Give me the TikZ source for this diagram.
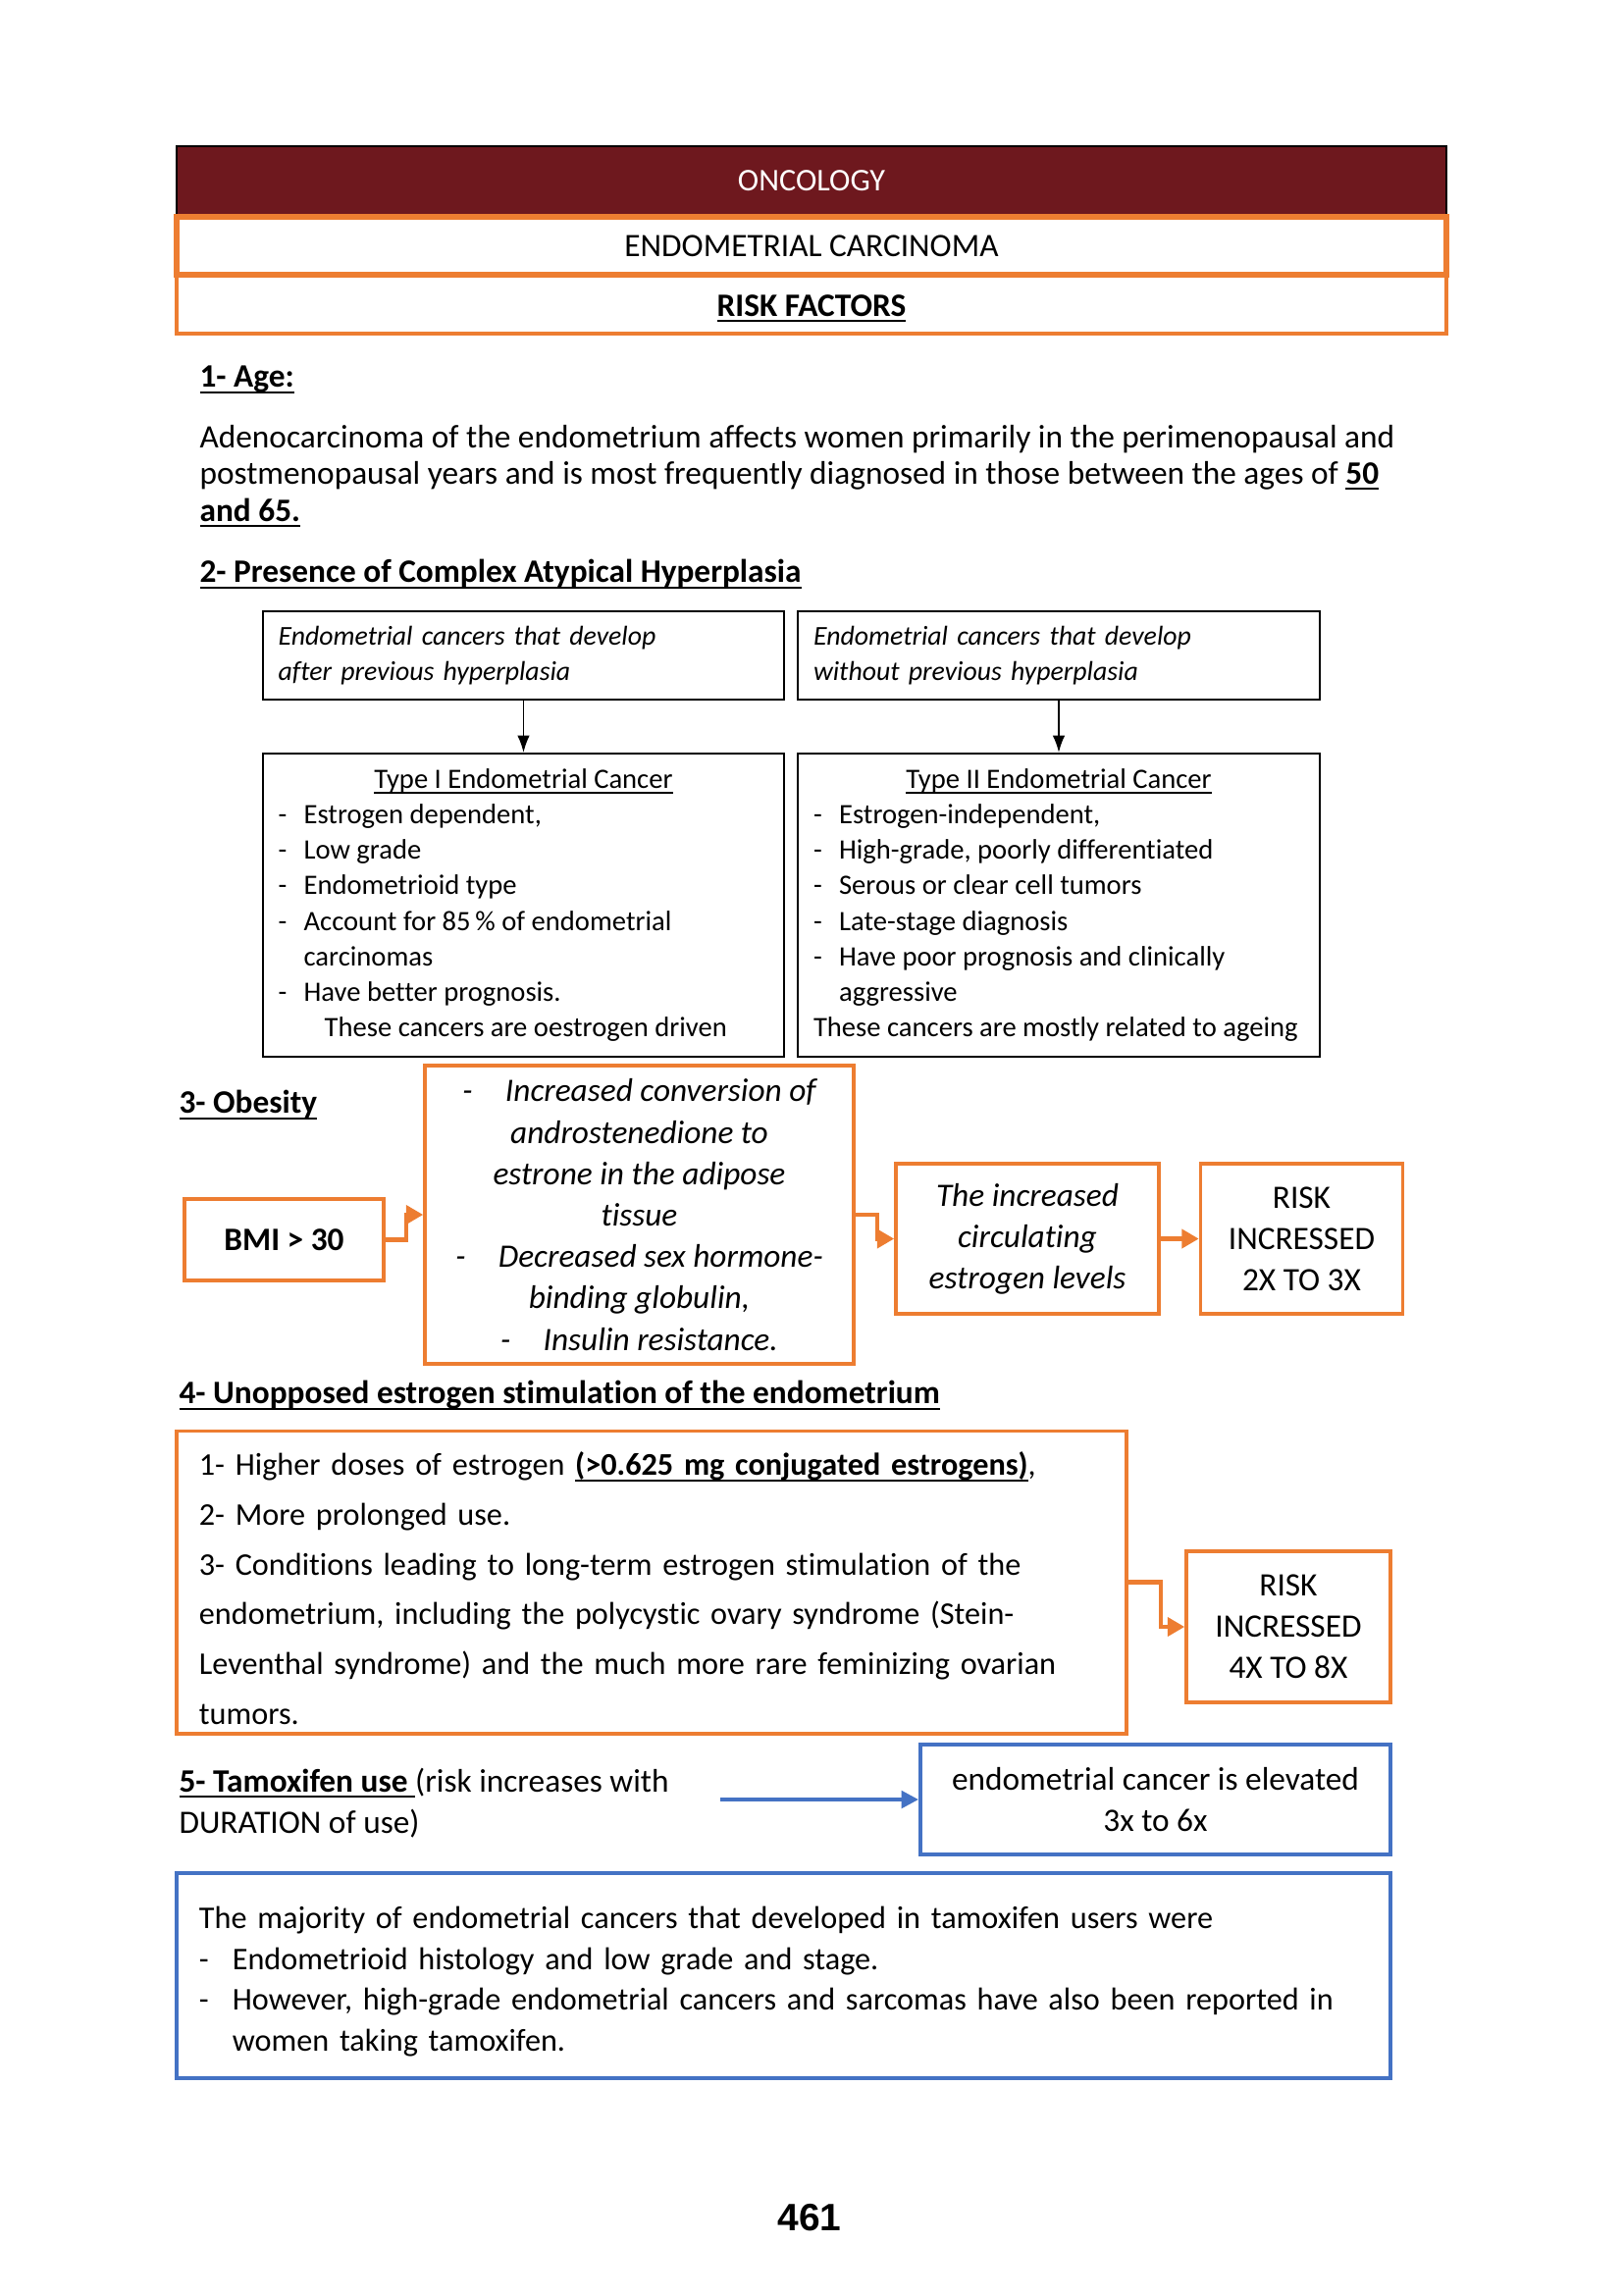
\documentclass[tikz,border=0pt]{standalone}
\usepackage{fontspec}
\setmainfont{Carlito}[Ligatures=NoCommon]
\newfontfamily\pagefont{Liberation Sans}
\usetikzlibrary{arrows.meta, positioning}
\definecolor{oncred}{RGB}{110,24,30}
\definecolor{orng}{RGB}{237,125,49}
\definecolor{blu}{RGB}{68,114,196}
\newcommand\dsh{\makebox[9.4pt][l]{-}}
\newcommand\bdsh{\makebox[12.2pt][l]{-}}
\newcommand\undl[1]{\leavevmode\setbox0\hbox{#1}%
  \rlap{\vrule height -1.4pt depth 2.1pt width \wd0}\box0}
\tikzset{
  sz/.style 2 args={minimum width=#1*0.36pt, minimum height=#2*0.36pt},
  hdr/.style={
    draw=black, fill=oncred, text=white, line width=0.8pt,
    font=\fontsize{11.6}{13}\selectfont
  },
  ttlbox/.style={draw=orng, line width=2.4pt, font=\fontsize{12}{14}\selectfont},
  subbox/.style={draw=orng, line width=1.2pt, font=\fontsize{12}{14}\selectfont},
  sec/.style={anchor=west, inner sep=0pt, font=\fontsize{12}{14}\selectfont\bfseries},
  txt/.style={anchor=base west, inner sep=0pt, align=left,
    font=\fontsize{12}{13.5}\selectfont},
  blk/.style={
    draw, line width=0.8pt, inner sep=5.4pt, align=left,
    font=\fontsize{10.3}{13}\selectfont
  },
  obox/.style={draw=orng, line width=1.3pt, align=center,
    font=\fontsize{12}{15.2}\selectfont},
  bbox/.style={draw=blu, line width=1.4pt, align=center,
    font=\fontsize{12}{15}\selectfont},
  sig/.style={-{Latex[length=2.2mm,width=1.6mm]}, line width=0.6pt},
  osig/.style={-{Triangle[length=2.2mm,width=2.4mm]}, draw=orng, line width=1.5pt},
  bsig/.style={-{Triangle[length=2.2mm,width=2.2mm]}, draw=blu, line width=1.4pt}
}

\begin{document}
\begin{tikzpicture}[x=0.36pt, y=-0.36pt]
  \useasboundingbox (0,0) rectangle (1654,2339);

  % title block
  \node[hdr, sz={1294}{70}]    (onc)  at (827,184)   {ONCOLOGY};
  \node[ttlbox, sz={1294}{59}] (endo) at (827,250.5) {ENDOMETRIAL CARCINOMA};
  \node[subbox, sz={1294}{60}] (rf)   at (827,310)   {\rule{0pt}{11pt}\textbf{\undl{RISK FACTORS}}};

  % 1- age
  \node[sec] (age) at (203,387) {\undl{1- Age:}};
  \node[txt] (agetxt) at (203,531)
    {Adenocarcinoma of the endometrium affects women primarily in the perimenopausal and\\
     postmenopausal years and is most frequently diagnosed in those between the ages of \textbf{\undl{50}}\\
     \textbf{\undl{and 65.}}};

  % 2- hyperplasia
  \node[sec] (hyp) at (203,585) {\undl{2- Presence of Complex Atypical Hyperplasia}};
  \node[blk, sz={531}{90}, text width=180pt, font=\fontsize{10}{13}\selectfont\itshape]
    (after) at (533.5,668) {Endometrial cancers that develop\\ after previous hyperplasia};
  \node[blk, sz={532}{90}, text width=180pt, font=\fontsize{10}{13}\selectfont\itshape]
    (without) at (1079,668) {Endometrial cancers that develop\\ without previous hyperplasia};

  \node[blk, sz={531}{309}] (type1) at (533.5,922.5)
    {\makebox[180pt][c]{\undl{Type I Endometrial Cancer}}\\
     \dsh Estrogen dependent,\\
     \dsh Low grade\\
     \dsh Endometrioid type\\
     \dsh Account for 85\,\% of endometrial\\
     \hspace*{9.4pt}carcinomas\\
     \dsh Have better prognosis.\\
     \hspace*{17pt}These cancers are oestrogen driven};
  \node[blk, sz={532}{309}] (type2) at (1079,922.5)
    {\makebox[180pt][c]{\undl{Type II Endometrial Cancer}}\\
     \dsh Estrogen-independent,\\
     \dsh High-grade, poorly differentiated\\
     \dsh Serous or clear cell tumors\\
     \dsh Late-stage diagnosis\\
     \dsh Have poor prognosis and clinically\\
     \hspace*{9.4pt}aggressive\\
     These cancers are mostly related to ageing};

  \draw[sig] (after)   -- (type1);
  \draw[sig] (without) -- (type2);

  % 3- obesity
  \node[sec] (obes) at (182,1126) {\undl{3- Obesity}};
  \node[obox, sz={203}{83}, font=\fontsize{12}{15}\selectfont\bfseries]
    (bmi) at (289.5,1263.5) {BMI > 30};
  \node[obox, sz={437}{304}, font=\fontsize{12}{15.2}\selectfont\itshape]
    (mech) at (651.5,1238)
    {-\hspace{12pt}Increased conversion of\\
     androstenedione to\\
     estrone in the adipose\\
     tissue\\
     -\hspace{12pt}Decreased sex hormone-\\
     binding globulin,\\
     -\hspace{12pt}Insulin resistance.};
  \node[obox, sz={268}{153}, font=\fontsize{12}{15.2}\selectfont\itshape]
    (circ) at (1047,1262.5) {The increased\\ circulating\\ estrogen levels};
  \node[obox, sz={206}{153}, right=14pt of circ] (risk1) {RISK\\ INCRESSED\\ 2X TO 3X};

  \draw[osig] (bmi.east)  -- ++(7.6pt,0) |- (mech.west);
  \draw[osig] (mech.east) -- ++(7.9pt,0) |- (circ.west);
  \draw[osig] (circ) -- (risk1);

  % 4- unopposed estrogen
  \node[sec] (unop) at (182,1422) {\undl{4- Unopposed estrogen stimulation of the endometrium}};
  \node[obox, sz={968}{305}, text width=332pt, align=left,
        font=\fontsize{11.6}{18.25}\selectfont] (expo) at (664,1612.5)
    {\rule{0pt}{13pt}1- Higher doses of estrogen \textbf{\undl{(>0.625 mg conjugated estrogens)}},\\
     2- More prolonged use.\\
     3- Conditions leading to long-term estrogen stimulation of the\\
     endometrium, including the polycystic ovary syndrome (Stein-\\
     Leventhal syndrome) and the much more rare feminizing ovarian\\
     tumors.};
  \node[obox, sz={208}{154}] (risk2) at (1313,1658) {RISK\\ INCRESSED\\ 4X TO 8X};

  \draw[osig] (expo.east) -- ++(12pt,0) |- (risk2.west);

  % 5- tamoxifen
  \node[txt, font=\fontsize{12}{15.1}\selectfont] (tamo) at (182,1868)
    {\textbf{\undl{5- Tamoxifen use }}(risk increases with\\ DURATION of use)};
  \node[bbox, sz={479}{112}] (elev) at (1177.5,1834)
    {endometrial cancer is elevated\\ 3x to 6x};
  \coordinate (tstart) at (734,1834);
  \draw[bsig] (tstart) -- (elev.west);

  \node[bbox, sz={1237}{209}, text width=428.8pt, align=left,
        font=\fontsize{11.6}{15}\selectfont] (major) at (798.5,2013.5)
    {\rule{0pt}{12.5pt}The majority of endometrial cancers that developed in tamoxifen users were\\
     \bdsh Endometrioid histology and low grade and stage.\\
     \bdsh However, high-grade endometrial cancers and sarcomas have also been reported in\\
     \hspace*{12.2pt}women taking tamoxifen.};

  \node[font=\pagefont\bfseries\fontsize{14}{16}\selectfont] (pg) at (825,2260) {461};

\end{tikzpicture}
\end{document}
